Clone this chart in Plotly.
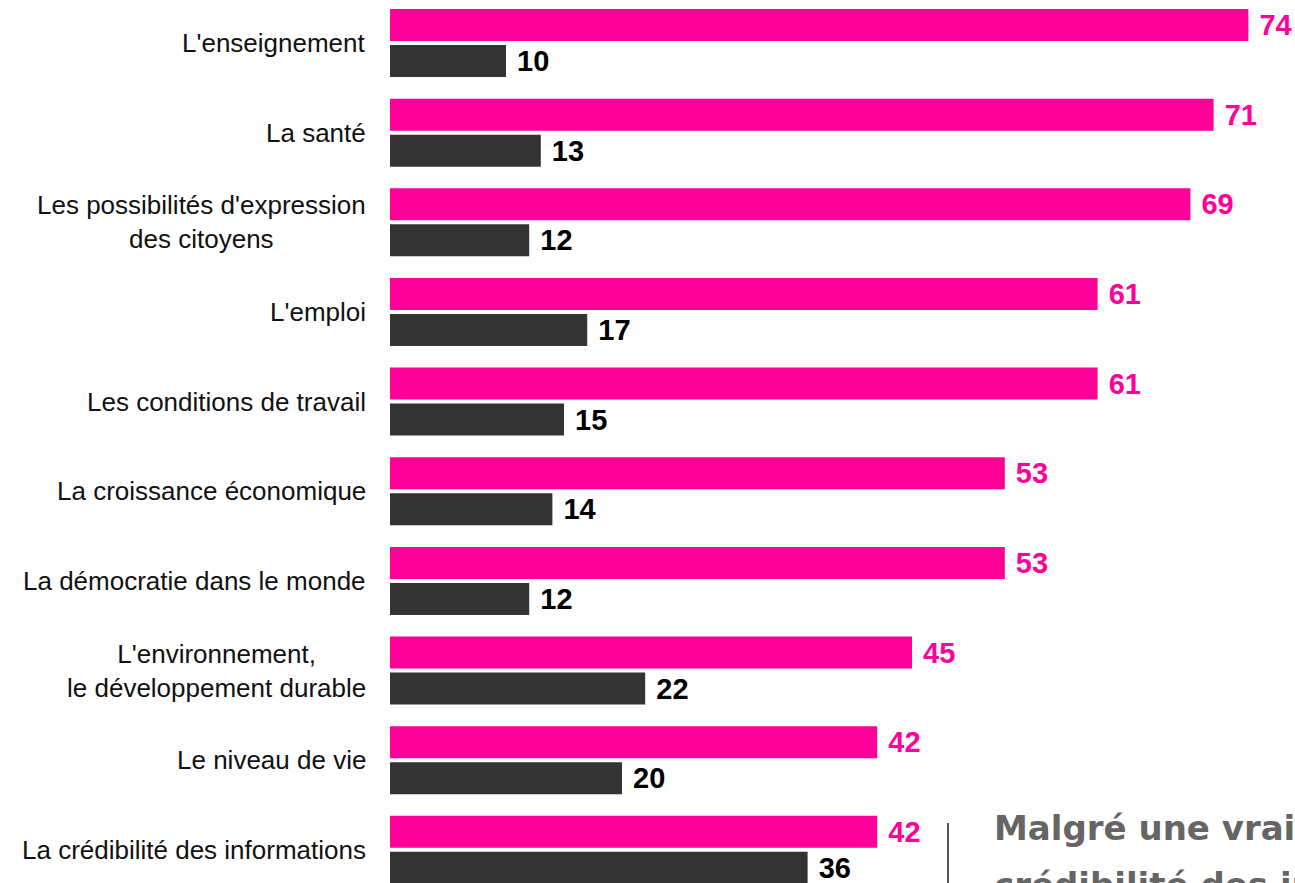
import plotly.graph_objects as go

categories = [
    "L'enseignement",
    "La santé",
    "Les possibilités d'expression<br>des citoyens",
    "L'emploi",
    "Les conditions de travail",
    "La croissance économique",
    "La démocratie dans le monde",
    "L'environnement,<br>le développement durable",
    "Le niveau de vie",
    "La crédibilité des informations",
]
pink_values = [74, 71, 69, 61, 61, 53, 53, 45, 42, 42]
dark_values = [10, 13, 12, 17, 15, 14, 12, 22, 20, 36]
side_lines = ["Malgré une vraie", "crédibilité des informations"]

PINK = "#FF0099"
DARK = "#333333"
FONT = "Liberation Sans, Arial, sans-serif"

fig = go.Figure()
fig.add_trace(go.Bar(
    y=categories, x=pink_values, orientation="h",
    marker=dict(color=PINK, line=dict(width=0)),
    text=[f" {v}" for v in pink_values], textposition="outside",
    textfont=dict(family=FONT, size=29, color=PINK, weight="bold"),
    cliponaxis=False, showlegend=False,
))
fig.add_trace(go.Bar(
    y=categories, x=dark_values, orientation="h",
    marker=dict(color=DARK, line=dict(width=0)),
    text=[f" {v}" for v in dark_values], textposition="outside",
    textfont=dict(family=FONT, size=29, color="#000000", weight="bold"),
    cliponaxis=False, showlegend=False,
))

for c in categories:
    fig.add_annotation(
        x=0, xref="paper", y=c, yref="y", text=c, showarrow=False,
        xanchor="right", yanchor="middle", align="center", xshift=-22,
        font=dict(family=FONT, size=26, color="#111111"),
    )

W, H = 1295, 883
L = 390
fig.add_shape(type="line", xref="paper", yref="paper",
              x0=(948 - L) / (W - L), x1=(948 - L) / (W - L),
              y0=1 - 823 / H, y1=-0.02,
              line=dict(color="#555555", width=2))
for i, line in enumerate(side_lines):
    fig.add_annotation(
        xref="paper", yref="paper", x=(992 - L) / (W - L),
        y=1 - (806 + 57 * i) / H,
        xanchor="left", yanchor="top", align="left", showarrow=False,
        text=f"<b>{line}</b>",
        font=dict(family="DejaVu Sans", size=34, color="#656565"),
    )

fig.update_layout(
    width=W, height=H,
    margin=dict(l=L, r=0, t=0, b=0),
    paper_bgcolor="white", plot_bgcolor="white",
    barmode="group", bargap=0.197, bargroupgap=0.111,
    xaxis=dict(range=[0, (W - L) / 11.6], visible=False, fixedrange=True),
    yaxis=dict(range=[9.37, -0.48], showticklabels=False, showgrid=False,
               zeroline=False, showline=False, ticks="", fixedrange=True),
)

fig.write_html(
    "out.html",
    config={"displayModeBar": False},
    post_script="document.body.style.margin='0';document.body.style.overflow='hidden';",
)
